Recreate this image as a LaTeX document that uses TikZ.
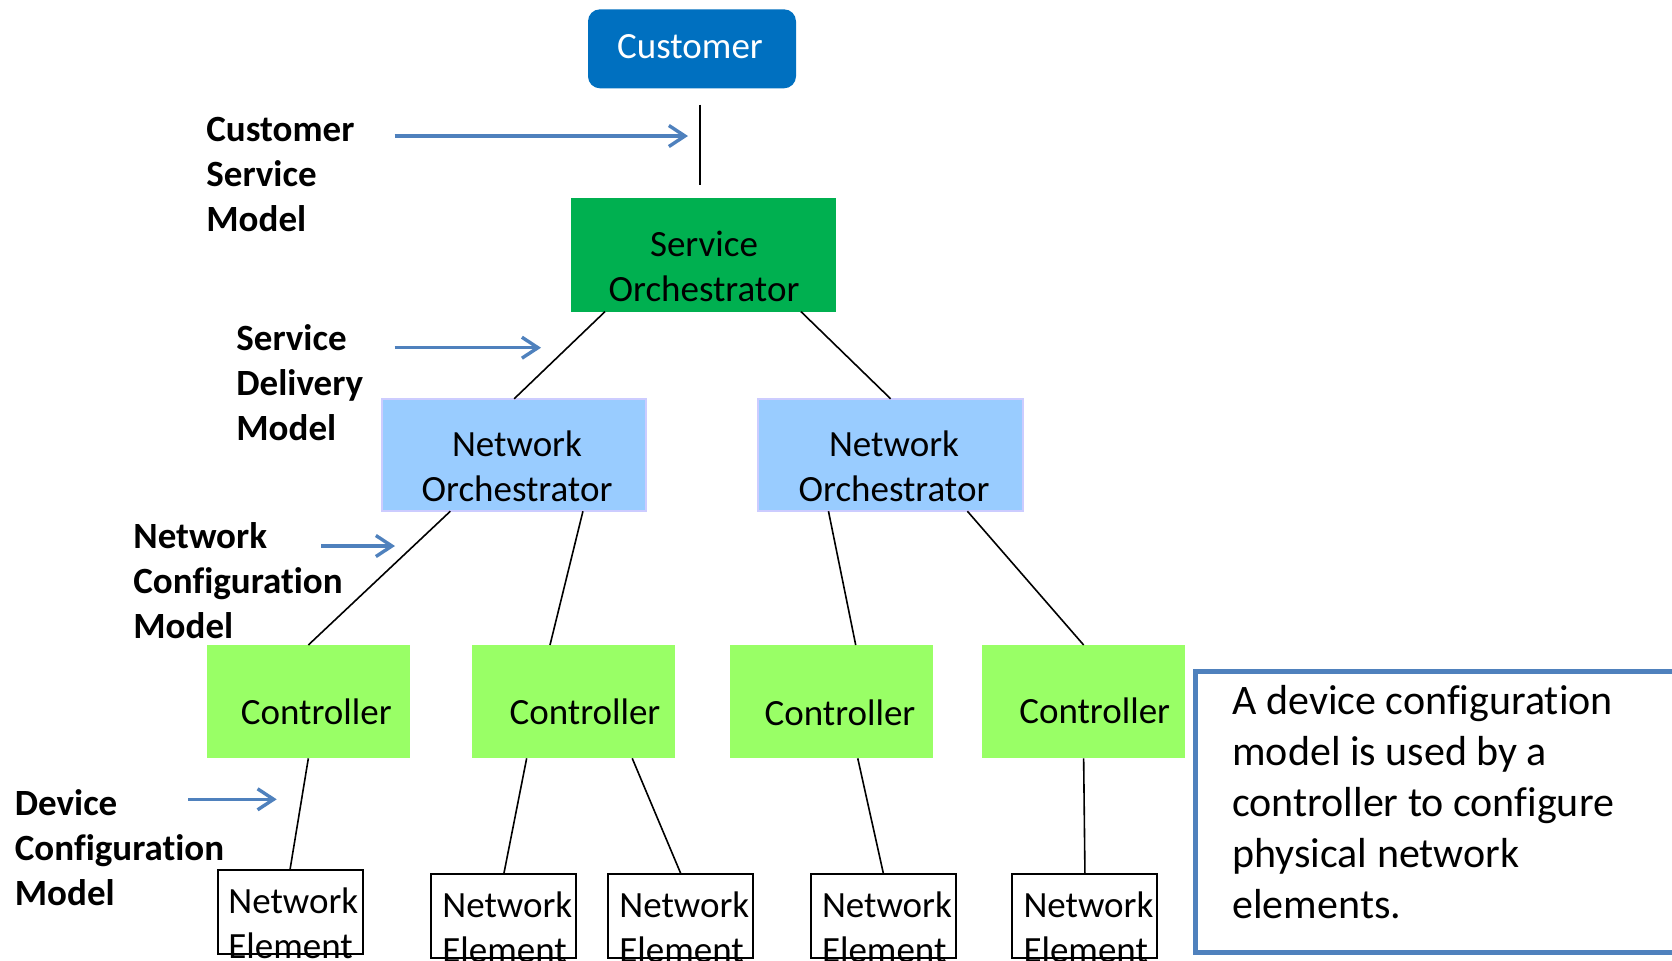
\documentclass[tikz,border=0pt]{standalone}
\usepackage{fontspec}
\setmainfont{Carlito}[Ligatures=NoCommon]
\usetikzlibrary{calc,arrows.meta}

\definecolor{custblue}{HTML}{0070C0}
\definecolor{sogreen}{HTML}{00B050}
\definecolor{nofill}{HTML}{99CCFF}
\definecolor{noedge}{HTML}{CCCCFF}
\definecolor{ctrlgreen}{HTML}{99FF66}
\definecolor{modelblue}{HTML}{4F81BD}

% multi-line text nodes are placed by the baseline of their last line
\tikzset{
  shape box/.style={rectangle, inner sep=0pt, outer sep=0pt},
  customer box/.style={shape box, fill=custblue, rounded corners=6pt,
    minimum width=104pt, minimum height=39.5pt},
  service box/.style={shape box, fill=sogreen,
    minimum width=132.75pt, minimum height=56.8pt},
  network box/.style={shape box, fill=nofill, draw=noedge, line width=1pt,
    minimum width=132.3pt, minimum height=56.2pt},
  controller box/.style={shape box, fill=ctrlgreen,
    minimum width=101.5pt, minimum height=56.65pt},
  element box/.style={shape box, draw=black, line width=1pt,
    minimum width=72.5pt, minimum height=42pt},
  note box/.style={shape box, draw=modelblue, line width=2.35pt, anchor=north west,
    minimum width=262pt, minimum height=140.4pt},
  box text/.style={inner sep=0pt, align=center, anchor=base,
    font=\fontsize{18.5pt}{22.5pt}\selectfont},
  element text/.style={inner sep=0pt, align=left, anchor=base west,
    font=\fontsize{18.5pt}{22.5pt}\selectfont},
  model label/.style={inner sep=0pt, align=left, anchor=base west,
    font=\bfseries\fontsize{18.5pt}{22.5pt}\selectfont},
  note text/.style={inner sep=0pt, align=left, anchor=base west,
    font=\fontsize{21pt}{25.5pt}\selectfont},
  link/.style={draw=black, line width=0.8pt},
  model arrow/.style={draw=modelblue, line width=1.7pt,
    -{Straight Barb[length=8pt,width=10.5pt]}},
}

\begin{document}
\begin{tikzpicture}[x=0.5pt,y=-0.5pt]
\useasboundingbox (0,0) rectangle (1672,960);
\clip (0,0) rectangle (1672,960);
\fill[white] (0,0) rectangle (1672,960);

% ---- hierarchy boxes ----
\node[customer box] (cust) at (692,48.8) {};
\node[box text, text=white] (cust-t) at (690,58.3) {Customer};

\node[service box] (so) at (703.25,254.8) {};
\node[box text] (so-t) at (704,301.7) {Service\\Orchestrator};

\node[network box] (no1) at (514.15,455) {};
\node[box text] (no1-t) at (517,501) {Network\\Orchestrator};
\node[network box] (no2) at (890.65,455) {};
\node[box text] (no2-t) at (894,501) {Network\\Orchestrator};

\node[controller box] (c1) at (308.35,701.65) {};
\node[box text] (c1-t) at (316.3,724) {Controller};
\node[controller box] (c2) at (573.35,701.65) {};
\node[box text] (c2-t) at (585,724) {Controller};
\node[controller box] (c3) at (831.35,701.65) {};
\node[box text] (c3-t) at (840,725.7) {Controller};
\node[controller box] (c4) at (1083.65,701.65) {};
\node[box text] (c4-t) at (1094.7,723.3) {Controller};

\node[element box] (ne1) at (290,911.75) {};
\node[element text] (ne1-t) at (228,958) {Network\\Element};
\node[element box] (ne2) at (503.85,915.75) {};
\node[element text] (ne2-t) at (442,962) {Network\\Element};
\node[element box] (ne3) at (680.85,915.75) {};
\node[element text] (ne3-t) at (619,962) {Network\\Element};
\node[element box] (ne4) at (883.45,915.75) {};
\node[element text] (ne4-t) at (821.6,962) {Network\\Element};
\node[element box] (ne5) at (1084.95,915.75) {};
\node[element text] (ne5-t) at (1023.1,962) {Network\\Element};

% ---- links between levels ----
\coordinate (cs-top) at (700,104.5);
\coordinate (cs-bot) at (700,184.5);
\draw[link] (cs-top) -- (cs-bot);

\draw[link] ($(so.south west)!0.13!(so.south east)$) -- (no1.north);
\draw[link] ($(so.south west)!0.868!(so.south east)$) -- (no2.north);

\draw[link] ($(no1.south west)!0.259!(no1.south east)$) -- (c1.north);
\draw[link] ($(no1.south west)!0.76!(no1.south east)$) -- ($(c2.north west)!0.385!(c2.north east)$);
\draw[link] ($(no2.south west)!0.265!(no2.south east)$) -- ($(c3.north west)!0.62!(c3.north east)$);
\draw[link] ($(no2.south west)!0.79!(no2.south east)$) -- (c4.north);

\draw[link] (c1.south) -- (ne1.north);
\draw[link] ($(c2.south west)!0.27!(c2.south east)$) -- (ne2.north);
\draw[link] ($(c2.south west)!0.79!(c2.south east)$) -- (ne3.north);
\draw[link] ($(c3.south west)!0.63!(c3.south east)$) -- (ne4.north);
\draw[link] (c4.south) -- (ne5.north);

% ---- model labels and their arrows ----
\node[model label] (csm) at (206,231.6) {Customer\\Service\\Model};
\node[model label] (sdm) at (236,440) {Service\\Delivery\\Model};
\node[model label] (ncm) at (133,638.3) {Network\\Configuration\\Model};
\node[model label] (dcm) at (14.5,905) {Device\\Configuration\\Model};

\coordinate (csm-a) at (394.5,136);
\coordinate (csm-b) at (688,136);
\coordinate (sdm-a) at (394.5,347.7);
\coordinate (sdm-b) at (541,347.7);
\coordinate (ncm-a) at (321,546);
\coordinate (ncm-b) at (395,546);
\coordinate (dcm-a) at (188.3,799.3);
\coordinate (dcm-b) at (276.7,799.3);
\draw[model arrow] (csm-a) -- (csm-b);
\draw[model arrow] (sdm-a) -- (sdm-b);
\draw[model arrow] (ncm-a) -- (ncm-b);
\draw[model arrow] (dcm-a) -- (dcm-b);

% ---- explanatory note ----
\node[note box] (note) at (1195.8,671.7) {};
\node[note text] (note-t) at (1232,918) {A device configuration\\model is used by a\\controller to configure\\physical network\\elements.};
\end{tikzpicture}
\end{document}
